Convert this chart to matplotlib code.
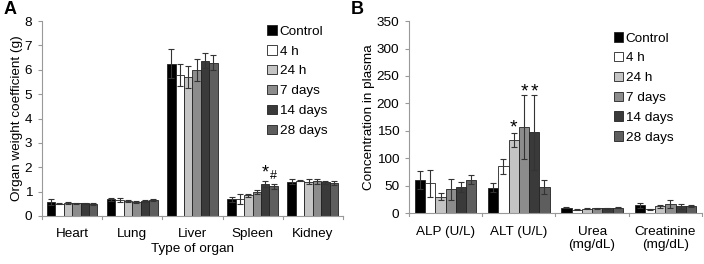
import matplotlib
matplotlib.use("Agg")
import matplotlib.pyplot as plt
import numpy as np

plt.rcParams['font.family'] = ['Liberation Sans', 'DejaVu Sans']

series = ["Control", "4 h", "24 h", "7 days", "14 days", "28 days"]
colors = ["#000000", "#ffffff", "#c4c4c4", "#8c8c8c", "#3a3a3a", "#5e5e5e"]

organs = ["Heart", "Lung", "Liver", "Spleen", "Kidney"]
organ_vals = [
    [0.57, 0.68, 6.25, 0.68, 1.40],
    [0.50, 0.65, 5.80, 0.70, 1.45],
    [0.53, 0.62, 5.70, 0.85, 1.40],
    [0.52, 0.57, 6.00, 0.98, 1.42],
    [0.52, 0.60, 6.38, 1.32, 1.38],
    [0.50, 0.65, 6.30, 1.22, 1.36],
]
organ_err = [
    [0.12, 0.05, 0.60, 0.10, 0.10],
    [0.02, 0.08, 0.45, 0.20, 0.03],
    [0.03, 0.04, 0.45, 0.07, 0.10],
    [0.03, 0.04, 0.45, 0.07, 0.09],
    [0.03, 0.04, 0.30, 0.12, 0.06],
    [0.03, 0.04, 0.30, 0.10, 0.07],
]

plasma = ["ALP (U/L)", "ALT (U/L)", "Urea\n(mg/dL)", "Creatinine\n(mg/dL)"]
plasma_vals = [
    [60, 46, 10, 14],
    [54, 85, 6, 7],
    [30, 133, 8, 12],
    [43, 157, 8.5, 17],
    [48, 147, 9, 12],
    [61, 47, 9.5, 13],
]
plasma_err = [
    [17, 8, 1, 5],
    [25, 14, 1, 1],
    [7, 13, 1, 3],
    [20, 58, 1, 7],
    [9, 69, 1, 5],
    [8, 13, 1, 2],
]

fig = plt.figure(figsize=(7.04, 2.64), dpi=100)
axA = fig.add_axes([0.0597, 0.182, 0.4273, 0.738])
axB = fig.add_axes([0.581, 0.193, 0.416, 0.727])

bw = 0.84 / 6
fs = 9.7

def draw(ax, cats, vals, errs, ymax, ystep):
    x = np.arange(len(cats))
    for i in range(6):
        xs = x - 0.42 + bw * (i + 0.5)
        ax.bar(xs, vals[i], bw, color=colors[i], edgecolor="#222222",
               linewidth=0.6, label=series[i], zorder=2)
        ax.errorbar(xs, vals[i], yerr=errs[i], fmt="none", ecolor="#333333",
                    elinewidth=0.8, capsize=2.5, capthick=0.8, zorder=3)
    ax.set_xlim(-0.5, len(cats) - 0.5)
    ax.set_ylim(0, ymax)
    ax.set_yticks(np.arange(0, ymax + 0.1, ystep))
    ax.set_xticks(x)
    ax.set_xticklabels(cats, fontsize=fs)
    ax.tick_params(axis='x', length=0, pad=9)
    ax.tick_params(axis='y', labelsize=fs, length=3, color="#999999", pad=4)
    for b in np.arange(-0.5, len(cats), 1.0):
        ax.plot([b, b], [0, -ymax * 0.015], color="#999999", lw=0.8,
                clip_on=False, transform=ax.transData)
    for s in ["top", "right"]:
        ax.spines[s].set_visible(False)
    for s in ["left", "bottom"]:
        ax.spines[s].set_color("#999999")
        ax.spines[s].set_linewidth(0.8)
    ax.legend(loc="upper right", fontsize=fs, frameon=False,
              handlelength=0.7, handleheight=0.7, handletextpad=0.2,
              labelspacing=0.55, borderaxespad=0.2)
    return x

xA = draw(axA, organs, organ_vals, organ_err, 8, 1)
axA.set_ylabel("Organ weight coefficient (g)", fontsize=fs, labelpad=1)
axA.set_xlabel("Type of organ", fontsize=fs, labelpad=2)
axA.get_legend().set_bbox_to_anchor((0.975, 1.02))
# spleen markers
sp = 3
axA.text(sp - 0.42 + bw * 4.5, 1.42, "*", ha="center", va="bottom", fontsize=13)
axA.text(sp - 0.42 + bw * 5.5, 1.40, "#", ha="center", va="bottom", fontsize=9)

xB = draw(axB, plasma, plasma_vals, plasma_err, 350, 50)
axB.set_ylabel("Concentration in plasma", fontsize=fs, labelpad=1)
axB.get_legend().set_bbox_to_anchor((0.93, 0.985))
for i, top in [(2, 140), (3, 205), (4, 206)]:
    axB.text(1 - 0.42 + bw * (i + 0.5), top, "*", ha="center", va="bottom", fontsize=14)

fig.text(0.005, 0.995, "A", fontsize=13, fontweight="bold", va="top")
fig.text(0.498, 0.995, "B", fontsize=13, fontweight="bold", va="top")

fig.savefig("out.png", dpi=100)
